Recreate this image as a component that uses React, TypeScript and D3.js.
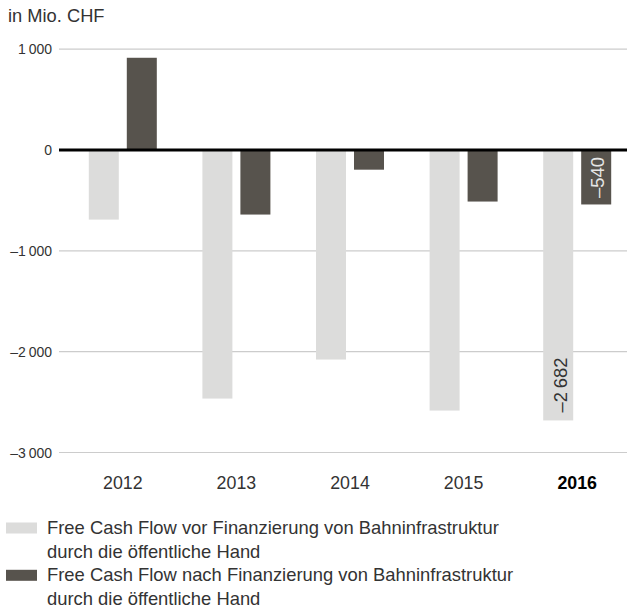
import React, { useEffect, useRef } from 'react'
import * as d3 from 'd3'

const years = ['2012', '2013', '2014', '2015', '2016']
const vorFinanzierung = [-690, -2465, -2078, -2584, -2682]
const nachFinanzierung = [915, -640, -195, -511, -540]
const yTicks = [1000, 0, -1000, -2000, -3000]
const legendLabels = [
  ['Free Cash Flow vor Finanzierung von Bahninfrastruktur', 'durch die öffentliche Hand'],
  ['Free Cash Flow nach Finanzierung von Bahninfrastruktur', 'durch die öffentliche Hand'],
]
const colors = ['#dcdcdb', '#57534d']
const font = '"Liberation Sans", Arial, Helvetica, sans-serif'

const fmt = (v: number) => {
  const s = Math.abs(v).toString().replace(/\B(?=(\d{3})+(?!\d))/g, '\u2009')
  return (v < 0 ? '\u2013' : '') + s
}

export default function App() {
  const ref = useRef<SVGSVGElement>(null)

  useEffect(() => {
    const svg = d3.select(ref.current)
    svg.selectAll('*').remove()

    const x = d3.scaleBand().domain(years).range([66, 634])
    const x1 = d3.scaleBand().domain(['0', '1']).range([-34, 34]).paddingInner(8 / 38)
    const y = d3.scaleLinear().domain([-3000, 1000]).range([452.5, 49.2])

    svg.append('text')
      .attr('x', 8).attr('y', 22)
      .attr('font-size', 18.3).attr('fill', '#333')
      .text('in Mio. CHF')

    // grid + ticks
    const grid = svg.append('g')
    grid.selectAll('line')
      .data(yTicks.filter(d => d !== 0))
      .enter().append('line')
      .attr('x1', 59).attr('x2', 627)
      .attr('y1', d => y(d)).attr('y2', d => y(d))
      .attr('stroke', '#cccccc').attr('stroke-width', 1.2)
    grid.selectAll('text')
      .data(yTicks)
      .enter().append('text')
      .attr('x', 52).attr('y', d => y(d) + 5)
      .attr('text-anchor', 'end')
      .attr('font-size', 14).attr('fill', '#333')
      .text(d => fmt(d))

    const series = [vorFinanzierung, nachFinanzierung]
    series.forEach((vals, si) => {
      svg.append('g').selectAll('rect')
        .data(vals)
        .enter().append('rect')
        .attr('x', (d, i) => x(years[i])! + x.bandwidth() / 2 + x1(String(si))!)
        .attr('width', x1.bandwidth())
        .attr('y', d => Math.min(y(d), y(0)))
        .attr('height', d => Math.abs(y(d) - y(0)))
        .attr('fill', colors[si])
    })

    // zero line
    svg.append('line')
      .attr('x1', 59).attr('x2', 627)
      .attr('y1', y(0)).attr('y2', y(0))
      .attr('stroke', '#000').attr('stroke-width', 3)

    // value labels for 2016
    const last = years.length - 1
    const cx0 = x(years[last])! + x.bandwidth() / 2 + x1('0')! + x1.bandwidth() / 2
    const cx1 = x(years[last])! + x.bandwidth() / 2 + x1('1')! + x1.bandwidth() / 2
    svg.append('text')
      .attr('transform', `translate(${cx0 + 8.5},${y(vorFinanzierung[last]) - 8}) rotate(-90)`)
      .attr('font-size', 18.4).attr('fill', '#333')
      .text(fmt(vorFinanzierung[last]))
    svg.append('text')
      .attr('transform', `translate(${cx1 + 8},${y(0) + 7}) rotate(-90)`)
      .attr('text-anchor', 'end')
      .attr('font-size', 18.4).attr('fill', '#e6e6e6')
      .text(fmt(nachFinanzierung[last]))

    // year labels
    svg.append('g').selectAll('text')
      .data(years)
      .enter().append('text')
      .attr('x', d => x(d)! + x.bandwidth() / 2)
      .attr('y', 489)
      .attr('text-anchor', 'middle')
      .attr('font-size', 17.8)
      .attr('font-weight', (d, i) => (i === last ? 'bold' : 'normal'))
      .attr('fill', (d, i) => (i === last ? '#000' : '#333'))
      .text(d => d)

    // legend
    const legend = svg.append('g')
    legendLabels.forEach((lines, i) => {
      const base = 534 + i * 47.3
      legend.append('rect')
        .attr('x', 6).attr('y', base - 11.5).attr('width', 31).attr('height', 11)
        .attr('fill', colors[i])
      lines.forEach((l, j) => {
        legend.append('text')
          .attr('x', 47).attr('y', base + j * 23.7)
          .attr('font-size', 18.4).attr('fill', '#333')
          .text(l)
      })
    })
  }, [])

  return (
    <div>
      <svg ref={ref} width={627} height={610}
        style={{ position: 'absolute', left: 0, top: 0, fontFamily: font }} />
    </div>
  )
}
